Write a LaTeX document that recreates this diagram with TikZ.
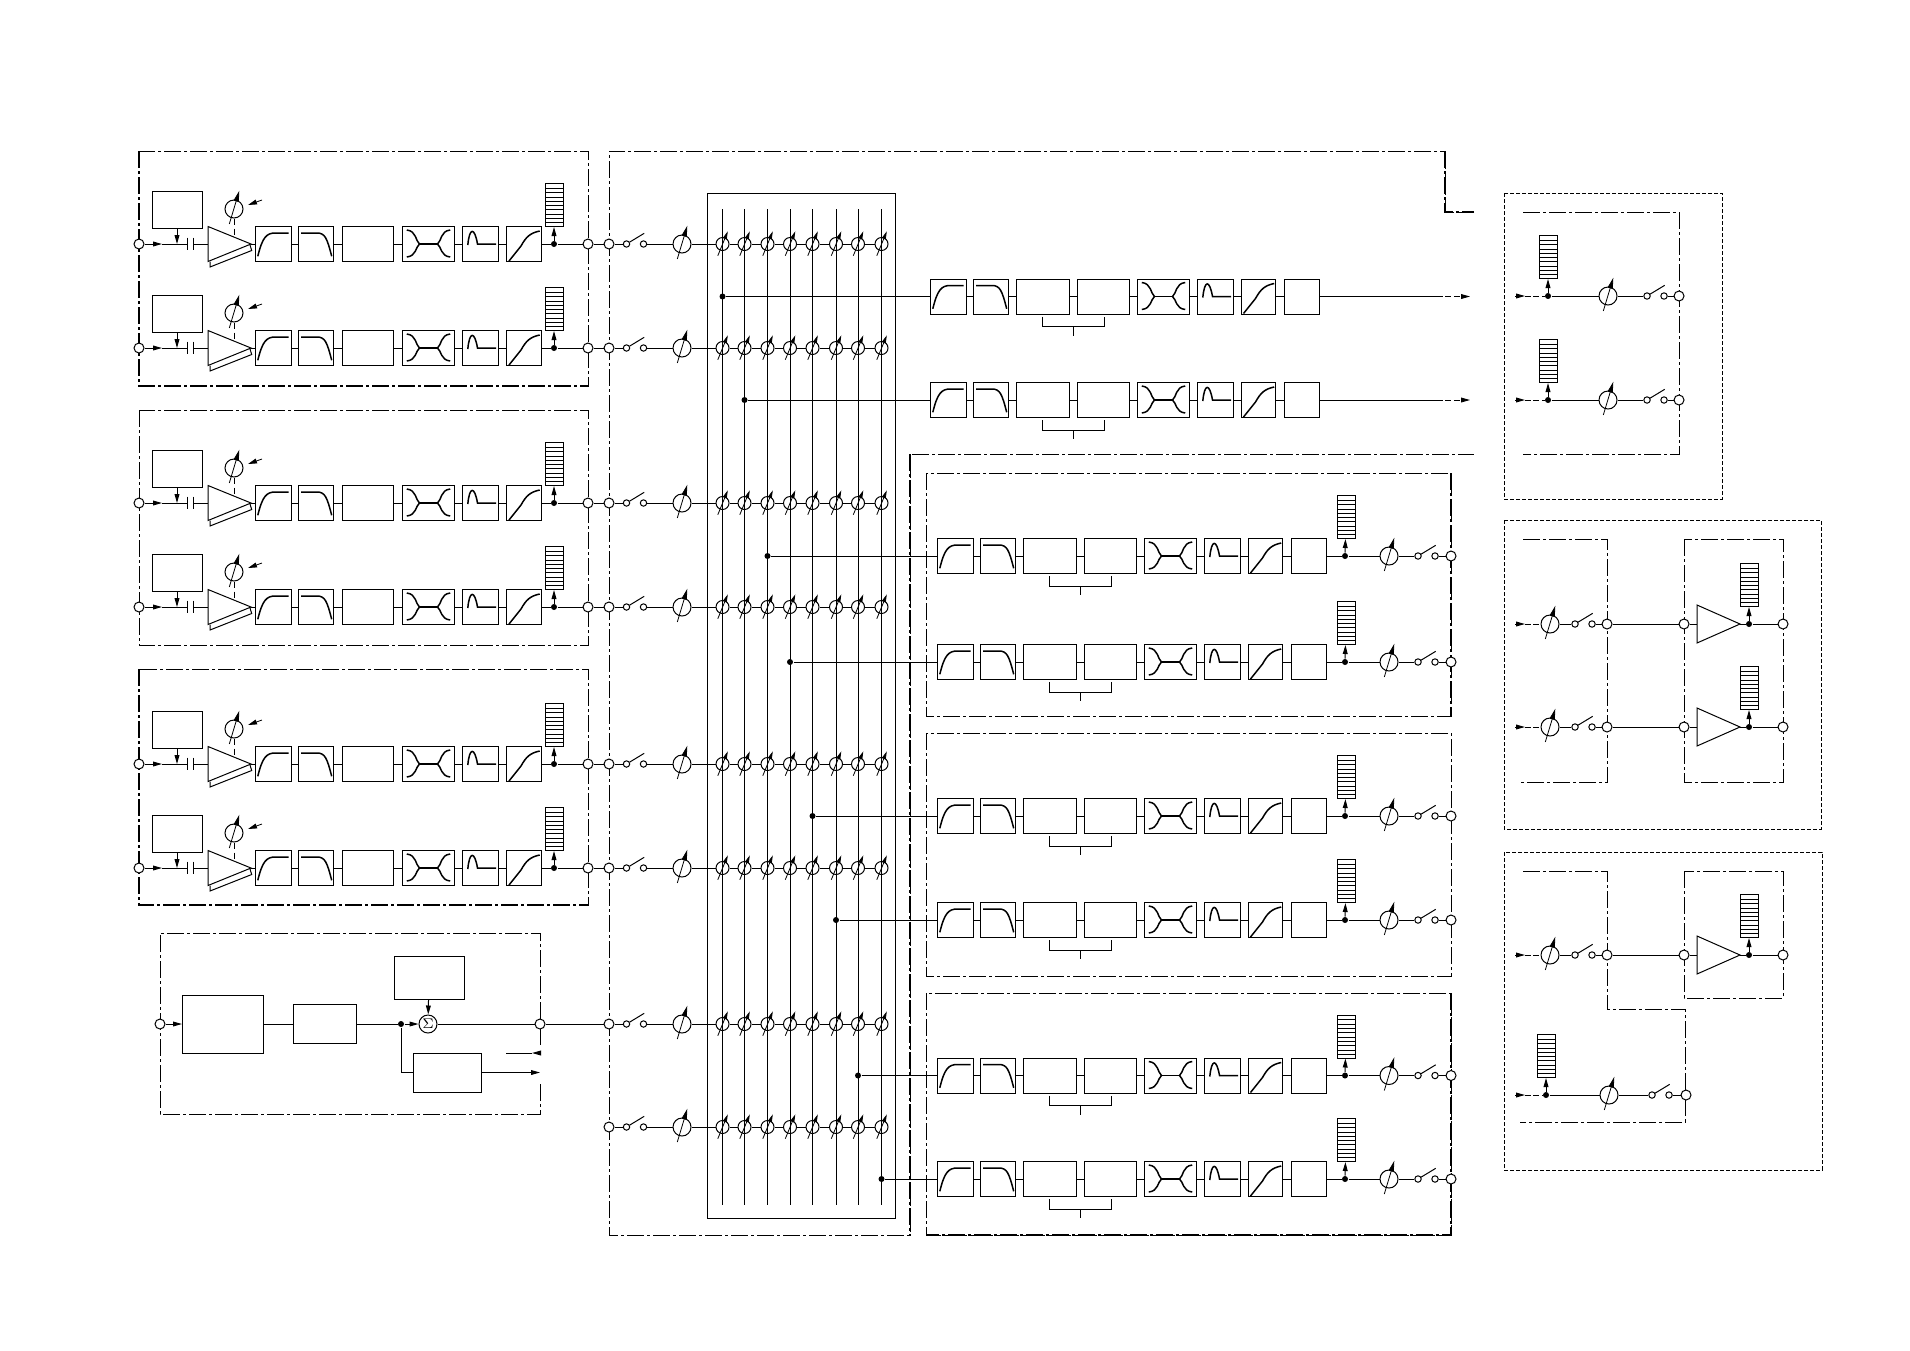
\documentclass[tikz,border=0pt]{standalone}
\usetikzlibrary{arrows.meta}

\tikzset{
blk/.style 2 args={rectangle, draw, inner sep=0pt, minimum width=#1*0.5pt, minimum height=#2*0.5pt},
port/.style={circle, draw, fill=white, inner sep=0pt, minimum size=5pt},
knob/.style={circle, draw, inner sep=0pt, minimum size=9pt},
tap/.style={circle, draw, inner sep=0pt, minimum size=6.5pt},
pin/.style={circle, draw, fill=white, inner sep=0pt, minimum size=3.2pt},
dot/.style={circle, fill=black, inner sep=0pt, minimum size=3pt},
line/.style={-{Triangle[length=4.5pt, width=2.4pt]}},
trim/.style={-{Triangle[length=5.5pt, width=2.6pt]}, line width=.4pt},
tiptrim/.style={-{Triangle[length=4pt, width=2pt]}, line width=.4pt},
frame/.style={dash pattern=on 8.5pt off 1.5pt on 1.5pt off 1.5pt, line width=.45pt},
heavy/.style={frame, line width=.9pt},
stub/.style={dash pattern=on 3pt off 1.2pt, line width=.45pt},
rack/.style={dash pattern=on 1.9pt off 1.1pt, line width=.45pt},
curve/.style={line width=.75pt},
pics/blank/.style={code={}},
pics/hpass/.style={code={\draw[curve] (-15.7,12.3) .. controls (-11,-7) and (-7,-11) .. (2,-11) -- (15,-11);}},
pics/lpass/.style={code={\draw[curve] (-15,-11) -- (1,-11) .. controls (9,-11) and (11,-6) .. (15.7,12.3);}},
pics/xover/.style={code={
  \draw[curve] (-21.7,-14) .. controls (-12,-13) and (-13,-3) .. (-9,0) .. controls (-13,3) and (-12,12) .. (-21.7,13);
  \draw[curve] (21.7,-14) .. controls (12,-13) and (13,-3) .. (9,0) .. controls (13,3) and (12,12) .. (21.7,13);
  \draw[curve] (-9,0) -- (9,0);}},
pics/bpass/.style={code={\draw[curve] (-12.7,1) .. controls (-11,-17) and (-6,-17) .. (-3,0) -- (15.7,0);}},
pics/comp/.style={code={\draw[curve] (-15,17) -- (-3,2) .. controls (2,-7) and (6,-11) .. (15.7,-13);}},
pics/tunebig/.style={code={
  \node[knob] (-c) at (0,0) {};
  \draw[trim] (-4.7,15) -- (5.3,-18.3);}},
pics/tunetap/.style={code={
  \node[tap] (-c) at (0,0) {};
  \draw[tiptrim] (-4.7,11.7) -- (5.3,-12.7);}},
pics/relay/.style={code={
  \node[pin] (-a) at (0,0) {};
  \node[pin] (-b) at (17,0) {};
  \draw (3,-1.8) -- (17.7,-10.7);}},
pics/meter/.style={code={
  \node[blk={18}{43}, anchor=south] (-box) at (0,0) {};
  \foreach \k in {1,...,9} \draw[line width=.4pt] (-9,-4.3*\k) -- (9,-4.3*\k);}},
pics/ampflap/.style={code={
  \draw (0,-17.5) -- (43,0) -- (0,17.5) -- cycle;
  \draw (2,17.5) -- (2,23) -- (43.7,6.5) -- (42,1);
  \coordinate (-tip) at (43,0);
  \coordinate (-in) at (0,0);}},
pics/amp/.style={code={
  \draw (0,-19) -- (43,0) -- (0,19) -- cycle;
  \coordinate (-tip) at (43,0);
  \coordinate (-in) at (0,0);}}
}

\begin{document}
\begin{tikzpicture}[x=0.5pt, y=-0.5pt, line width=.5pt]
\useasboundingbox (0,0) rectangle (1910,1350);

% group frames
\draw[frame] (139,151) rectangle (588,386);
\draw[frame] (139,410) rectangle (588,645);
\draw[frame] (139,669) rectangle (588,905);
\draw[heavy] (139,151) -- (139,386) -- (588,386);
\draw[heavy] (139,669) -- (139,905) -- (588,905);
\draw[frame] (540,1045) -- (540,933) -- (160,933) -- (160,1114) -- (540,1114) -- (540,1081);
\draw[frame] (1474,212) -- (1445,212) -- (1445,151) -- (609,151) -- (609,1235) -- (910,1235) -- (910,454) -- (1474,454);
\draw[heavy] (1445,151) -- (1445,212) -- (1474,212);
\draw[heavy] (910,454) -- (910,1235);
\draw[frame] (926,473) rectangle (1451,716);
\draw[frame] (926,733) rectangle (1451,976);
\draw[frame] (926,993) rectangle (1451,1235);
\draw[heavy] (1451,473) -- (1451,716);
\draw[heavy] (1451,993) -- (1451,1235) -- (926,1235);

% racks on the right
\draw[rack] (1504,193) rectangle (1722,499);
\draw[rack] (1504,520) rectangle (1821,829);
\draw[rack] (1504,852) rectangle (1822,1170);
\draw[frame] (1523,212) -- (1679,212) -- (1679,454) -- (1523,454);
\draw[frame] (1523,539) -- (1607,539) -- (1607,782) -- (1520,782);
\draw[frame] (1684,539) rectangle (1783,782);
\draw[frame] (1523,871) -- (1607,871) -- (1607,1009) -- (1685,1009) -- (1685,1122) -- (1520,1122);
\draw[frame] (1684,871) rectangle (1783,998);

% matrix
\draw (707,193) rectangle (895,1218);
\foreach \x in {722.5,744.5,767.5,790,812.5,836,858,881.5}
  \draw (\x,209) -- (\x,1205);

% input channels
\foreach \n/\y in {r1/244,r2/348,r3/503,r4/607,r5/764,r6/868} {
\begin{scope}[shift={(0,\y)}, name prefix=\n-]
\node[port] (in) at (139,0) {};
\node[blk={50}{37}] (ctl) at (177,-34.5) {};
\coordinate (cut) at (177,0);
\coordinate (head) at (162,0);
\coordinate (capa) at (187,0);
\coordinate (capb) at (193,0);
\pic (amp) at (208,0) {ampflap};
\pic (gain) at (234,-35) {tunebig};
\coordinate (gaindrive) at (234,-7);
\coordinate (gaincmd) at (262,-44);
\coordinate (gainend) at (248,-39);
\draw[line] (in) -- (head);
\draw (head) -- (capa);
\draw[line] (ctl) -- (cut);
\draw (capa) +(0,-6.3) -- +(0,6.3);
\draw (capb) +(0,-6.3) -- +(0,6.3);
\draw (capb) -- (amp-in);
\draw[densely dashed] (gain-c) -- (gaindrive);
\draw[line, densely dashed, line width=.4pt] (gaincmd) -- (gainend);
\foreach \prev/\nm/\lft/\wid/\ico in {amp-tip/hp/255/36/hpass, hp/lp/298/35/lpass, lp/eq/342/51/blank, eq/xo/402/52/xover, xo/bp/462/36/bpass, bp/cm/506/35/comp} {
  \node[blk={\wid}{35}, anchor=west] (\nm) at (\lft,0) {};
  \pic at (\nm) {\ico};
  \draw (\prev) -- (\nm);
}
\node[dot] (pt) at (554,0) {};
\pic (lvl) at (554,-17) {meter};
\node[port] (out) at (588,0) {};
\draw (cm) -- (pt);
\draw (pt) -- (out);
\draw[line] (pt) -- (lvl-box);
\end{scope}
}

% master section
\node[port] (min) at (160,1024) {};
\node[blk={81}{58}, anchor=west] (conv) at (182,1024) {};
\node[blk={63}{39}, anchor=west] (proc) at (293,1024) {};
\node[dot] (split) at (401,1024) {};
\node[knob] (sum) at (428,1024) {$\scriptstyle\Sigma$};
\node[blk={70}{43}] (aux) at (429,977.5) {};
\node[blk={68}{39}, anchor=west] (side) at (413,1072.5) {};
\node[port] (r7-out) at (540,1024) {};
\coordinate (sidein) at (401,1072.5);
\coordinate (sideout) at (540,1072.5);
\coordinate (backa) at (506,1053);
\coordinate (backb) at (539,1053);
\coordinate (backh) at (532,1053);
\draw[line] (min) -- (conv);
\draw (conv) -- (proc);
\draw (proc) -- (split);
\draw[line] (split) -- (sum);
\draw[line] (aux) -- (sum);
\draw (sum) -- (r7-out);
\draw (split) -- (sidein) -- (side);
\draw[line] (side) -- (sideout);
\draw[line] (backb) -- (backh);
\draw (backa) -- (backh);

% matrix rows
\foreach \n/\y in {r1/244,r2/348,r3/503,r4/607,r5/764,r6/868,r7/1024,r8/1127} {
\begin{scope}[shift={(0,\y)}, name prefix=\n-]
\node[port] (bp) at (609,0) {};
\pic (sw) at (626.5,0) {relay};
\pic (fader) at (682,0) {tunebig};
\draw (bp) -- (sw-a);
\draw (sw-b) -- (fader-c);
\foreach \from/\to/\x in {fader/t1/722.5, t1/t2/744.5, t2/t3/767.5, t3/t4/790, t4/t5/812.5, t5/t6/836, t6/t7/858, t7/t8/881.5} {
  \pic (\to) at (\x,0) {tunetap};
  \draw (\from-c) -- (\to-c);
}
\end{scope}
}
\foreach \n in {r1,r2,r3,r4,r5,r6,r7}
  \draw (\n-out) -- (\n-bp);

% output strips
\foreach \n/\y/\dx/\bx in {s1/296.5/0/722.5, s2/400/0/744.5, s3/556/7/767.5, s4/662/7/790, s5/816/7/812.5, s6/920/7/836, s7/1075.5/7/858, s8/1179/7/881.5} {
\node[dot] (\n-bus) at (\bx,\y) {};
\begin{scope}[shift={(\dx,\y)}, name prefix=\n-]
\foreach \nm/\lft/\wid/\ico in {hp/930/36/hpass, lp/973/35/lpass, dsa/1016/53/blank, dsb/1077/52/blank, xo/1137/52/xover, bp/1197/36/bpass, cm/1241/34/comp, dl/1284/35/blank} {
  \node[blk={\wid}{35}, anchor=west] (\nm) at (\lft,0) {};
  \pic at (\nm) {\ico};
}
\foreach \from/\to in {hp/lp, lp/dsa, dsa/dsb, dsb/xo, xo/bp, bp/cm, cm/dl}
  \draw (\from) -- (\to);
\draw (1042,20) -- (1042,30) -- (1104,30) -- (1104,20);
\draw (1073,30) -- (1073,39);
\end{scope}
\draw (\n-bus) -- (\n-hp);
}
\foreach \n/\y in {s1/296.5,s2/400} {
\begin{scope}[shift={(0,\y)}, name prefix=\n-]
\coordinate (go) at (1437,0);
\coordinate (gotip) at (1470,0);
\draw (dl) -- (go);
\draw[line, stub] (go) -- (gotip);
\end{scope}
}
\foreach \n/\y in {s3/556,s4/662,s5/816,s6/920,s7/1075.5,s8/1179} {
\begin{scope}[shift={(0,\y)}, name prefix=\n-]
\node[dot] (pt) at (1345,0) {};
\pic (lvl) at (1346,-17) {meter};
\pic (fader) at (1389,0) {tunebig};
\pic (sw) at (1418,0) {relay};
\node[port] (out) at (1451,0) {};
\draw (dl) -- (pt);
\draw[line] (pt) -- (lvl-box);
\draw (pt) -- (fader-c);
\draw (fader-c) -- (sw-a);
\draw (sw-b) -- (out);
\end{scope}
}

% rack rows with meter first
\foreach \n/\y/\ax/\gx/\sx/\px in {q1/296/1548/1608/1647/1679, q2/400/1548/1608/1647/1679, q5/1095/1546/1609/1652/1686} {
\begin{scope}[shift={(0,\y)}, name prefix=\n-]
\coordinate (st) at (1515,0);
\coordinate (stb) at (1525,0);
\node[dot] (pt) at (\ax,0) {};
\pic (lvl) at (\ax,-17) {meter};
\pic (fader) at (\gx,0) {tunebig};
\pic (sw) at (\sx,0) {relay};
\node[port] (out) at (\px,0) {};
\draw[line] (st) -- (stb);
\draw[stub] (stb) -- (pt);
\draw[line] (pt) -- (lvl-box);
\draw (pt) -- (fader-c);
\draw (fader-c) -- (sw-a);
\draw (sw-b) -- (out);
\end{scope}
}

% rack rows with amplifier
\foreach \n/\y in {q3/624,q4/727,q6/955} {
\begin{scope}[shift={(0,\y)}, name prefix=\n-]
\coordinate (st) at (1515,0);
\coordinate (stb) at (1525,0);
\pic (fader) at (1550,0) {tunebig};
\pic (sw) at (1575,0) {relay};
\node[port] (outa) at (1607,0) {};
\node[port] (ina) at (1684,0) {};
\pic (pa) at (1697,0) {amp};
\node[dot] (pt) at (1749,0) {};
\pic (lvl) at (1749,-17) {meter};
\node[port] (out) at (1783,0) {};
\draw[line] (st) -- (stb);
\draw[stub] (stb) -- (fader-c);
\draw (fader-c) -- (sw-a);
\draw (sw-b) -- (outa);
\draw (outa) -- (ina);
\draw (ina) -- (pa-in);
\draw (pa-tip) -- (pt);
\draw[line] (pt) -- (lvl-box);
\draw (pt) -- (out);
\end{scope}
}

\end{tikzpicture}
\end{document}
